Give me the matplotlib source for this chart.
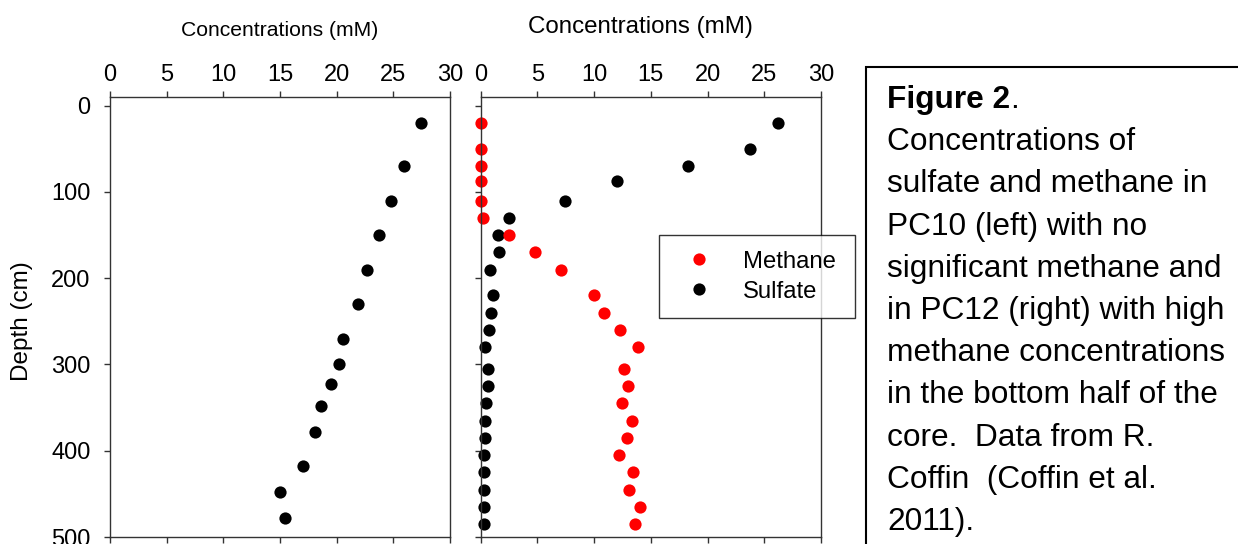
import matplotlib
matplotlib.use('Agg')
import matplotlib.pyplot as plt
from matplotlib.patches import Rectangle
from matplotlib.lines import Line2D

plt.rcParams['font.family'] = ['Liberation Sans', 'DejaVu Sans']

# PC10 (left panel): sulfate only
pc10_depth = [20, 70, 110, 150, 190, 230, 270, 300, 323, 348, 378, 418, 448, 478]
pc10_sulfate = [27.4, 25.9, 24.8, 23.7, 22.7, 21.9, 20.6, 20.2, 19.5, 18.6, 18.1, 17.0, 15.0, 15.4]

# PC12 (right panel): methane and sulfate
pc12_depth = [20, 50, 70, 87, 110, 130, 150, 170, 190, 220, 240, 260, 280,
              305, 325, 345, 365, 385, 405, 425, 445, 465, 485]
pc12_methane = [0.0, 0.0, 0.0, 0.0, 0.0, 0.2, 2.5, 4.8, 7.1, 10.0, 10.9, 12.3, 13.9,
                12.6, 13.0, 12.5, 13.3, 12.9, 12.2, 13.4, 13.1, 14.0, 13.6]
pc12_sulfate = [26.2, 23.7, 18.3, 12.0, 7.4, 2.5, 1.5, 1.6, 0.8, 1.1, 0.9, 0.7, 0.4,
                0.6, 0.6, 0.5, 0.4, 0.35, 0.3, 0.3, 0.3, 0.3, 0.3]

x_ticks = [0, 5, 10, 15, 20, 25, 30]
y_ticks = [0, 100, 200, 300, 400, 500]

caption_lines = [
    "Concentrations of",
    "sulfate and methane in",
    "PC10 (left) with no",
    "significant methane and",
    "in PC12 (right) with high",
    "methane concentrations",
    "in the bottom half of the",
    "core.  Data from R.",
    "Coffin  (Coffin et al.",
    "2011).",
]

W, H = 1238, 544
fig = plt.figure(figsize=(W / 100, H / 100), dpi=100)

spine_col = '#333333'
ms = 8.8


def px_box(x0, x1, y_top, y_bot):
    return [x0 / W, 1 - y_bot / H, (x1 - x0) / W, (y_bot - y_top) / H]


def style_axes(ax, show_ylabels):
    ax.set_xlim(0, 30)
    ax.set_ylim(500, -10)
    ax.set_xticks(x_ticks)
    ax.set_yticks(y_ticks)
    for s in ax.spines.values():
        s.set_color(spine_col)
        s.set_linewidth(1.0)
    ax.tick_params(axis='x', which='both', top=True, bottom=True,
                   labeltop=True, labelbottom=False, direction='out',
                   length=4.5, width=1.0, color=spine_col, labelsize=17, pad=3.5)
    ax.tick_params(axis='y', left=True, right=False, labelleft=show_ylabels,
                   direction='out', length=4.5, width=1.0, color=spine_col,
                   labelsize=17, pad=9.5)


ax1 = fig.add_axes(px_box(110, 450, 97, 537))
ax2 = fig.add_axes(px_box(480.7, 821, 97, 537))
style_axes(ax1, True)
style_axes(ax2, False)

ax1.plot(pc10_sulfate, pc10_depth, 'o', color='black', ms=ms, mew=0, clip_on=False)
ax2.plot(pc12_sulfate, pc12_depth, 'o', color='black', ms=ms, mew=0, clip_on=False)
ax2.plot(pc12_methane, pc12_depth, 'o', color='#ff0000', ms=ms, mew=0, clip_on=False)

ax1.set_ylabel('Depth (cm)', fontsize=17.5)
ax1.yaxis.set_label_coords(-0.226, 0.49)

fig.text(279.5 / W, 1 - 36 / H, 'Concentrations (mM)', fontsize=15.2,
         ha='center', va='baseline')
fig.text(640 / W, 1 - 33.3 / H, 'Concentrations (mM)', fontsize=17.4,
         ha='center', va='baseline')

handles = [Line2D([], [], ls='none', marker='o', color='#ff0000', ms=ms, mew=0),
           Line2D([], [], ls='none', marker='o', color='black', ms=ms, mew=0)]
leg = ax2.legend(handles, ['Methane', 'Sulfate'], loc='upper left',
                 bbox_to_anchor=(659 / W, 1 - 317 / H, 196 / W, 82 / H),
                 bbox_transform=fig.transFigure, mode='expand',
                 borderaxespad=0, fontsize=17.2, frameon=True, fancybox=False,
                 borderpad=0.66, labelspacing=0.33, handlelength=2.0,
                 handletextpad=0.85)
leg.get_frame().set_edgecolor('black')
leg.get_frame().set_linewidth(1.0)
leg.set_zorder(10)

# caption box
fig.patches.append(Rectangle((865.5 / W, -0.05), 0.5, 1 - 67 / H + 0.05,
                             transform=fig.transFigure, fill=False,
                             edgecolor='black', linewidth=1.5))

cap_x = 887 / W
line_step = 42.2
fs_cap = 22.8
t = fig.text(cap_x, 1 - 108 / H, 'Figure 2', fontsize=fs_cap, fontweight='bold',
             va='baseline', ha='left')
fig.canvas.draw()
bb = t.get_window_extent()
fig.text(bb.x1 / W, 1 - 108 / H, '.', fontsize=fs_cap, va='baseline', ha='left')
for i, line in enumerate(caption_lines):
    fig.text(cap_x, 1 - (108 + (i + 1) * line_step) / H, line, fontsize=fs_cap,
             va='baseline', ha='left')

fig.savefig('out.png', dpi=100)
